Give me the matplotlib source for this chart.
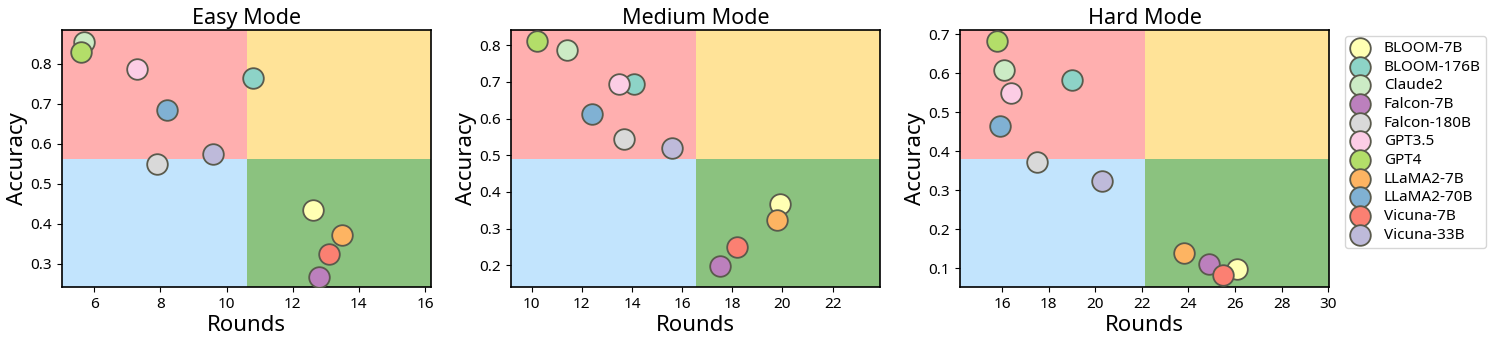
import numpy as np
import matplotlib
matplotlib.use("Agg")
import matplotlib.pyplot as plt

plt.rcParams['font.family'] = ['Noto Sans', 'DejaVu Sans']

#%% Data

models = ["BLOOM-7B", "BLOOM-176B", "Claude2", "Falcon-7B", "Falcon-180B", "GPT3.5",
          "GPT4", "LLaMA2-7B", "LLaMA2-70B", "Vicuna-7B", "Vicuna-33B"]
colors = ["#ffffb3", "#8dd3c7", "#ccebc5", "#bc80bd", "#d9d9d9", "#fccde5",
          "#b3de69", "#fdb462", "#80b1d3", "#fb8072", "#bebada"]

modes = ["Easy Mode", "Medium Mode", "Hard Mode"]

easy_rounds = [12.6, 10.8, 5.7, 12.8, 7.9, 7.3, 5.6, 13.5, 8.2, 13.1, 9.6]
easy_acc = [0.433, 0.764, 0.854, 0.266, 0.549, 0.787, 0.829, 0.372, 0.684, 0.323, 0.575]

medium_rounds = [19.9, 14.1, 11.4, 17.5, 13.7, 13.5, 10.2, 19.8, 12.4, 18.2, 15.6]
medium_acc = [0.366, 0.693, 0.787, 0.198, 0.544, 0.694, 0.812, 0.325, 0.613, 0.249, 0.521]

hard_rounds = [26.1, 19.0, 16.1, 24.9, 17.5, 16.4, 15.8, 23.8, 15.9, 25.5, 20.3]
hard_acc = [0.097, 0.583, 0.608, 0.110, 0.372, 0.550, 0.682, 0.139, 0.464, 0.081, 0.323]

xlims = [(5.03, 16.18), (9.18, 23.89), (14.2, 30.04)]
ylims = [(0.241, 0.884), (0.141, 0.841), (0.051, 0.711)]
xticks = [[6, 8, 10, 12, 14, 16], [10, 12, 14, 16, 18, 20, 22], [16, 18, 20, 22, 24, 26, 28, 30]]

# quadrant colours: top-left, top-right, bottom-left, bottom-right
quad_colors = ["#ffafaf", "#ffe398", "#c2e4fd", "#8bc27f"]

all_rounds = [easy_rounds, medium_rounds, hard_rounds]
all_acc = [easy_acc, medium_acc, hard_acc]

#%% Plot

fig, axes = plt.subplots(1, 3, figsize=(14.95, 3.41), dpi=100)
fig.subplots_adjust(left=0.0415, right=0.889, top=0.912, bottom=0.158, wspace=0.217)

for k, ax in enumerate(axes):
    ax.set_xlim(xlims[k])
    ax.set_ylim(ylims[k])
    # quadrants, split at the middle of each axis
    ax.fill_between([0, 0.5], 0.5, 1, transform=ax.transAxes, color=quad_colors[0], lw=0, zorder=0)
    ax.fill_between([0.5, 1], 0.5, 1, transform=ax.transAxes, color=quad_colors[1], lw=0, zorder=0)
    ax.fill_between([0, 0.5], 0, 0.5, transform=ax.transAxes, color=quad_colors[2], lw=0, zorder=0)
    ax.fill_between([0.5, 1], 0, 0.5, transform=ax.transAxes, color=quad_colors[3], lw=0, zorder=0)

    for i, m in enumerate(models):
        ax.scatter(all_rounds[k][i], all_acc[k][i], s=220, color=colors[i],
                   edgecolor="#5a5a4c", linewidth=1.3, label=m, zorder=3)

    ax.set_xticks(xticks[k])
    ax.set_title(modes[k], fontsize=15.5, pad=4)
    ax.set_xlabel("Rounds", fontsize=16, labelpad=2)
    ax.set_ylabel("Accuracy", fontsize=16, labelpad=2)
    ax.tick_params(labelsize=11)
    for sp in ax.spines.values():
        sp.set_linewidth(1.2)

handles, labels = axes[0].get_legend_handles_labels()
fig.legend(handles, labels, loc="upper left", bbox_to_anchor=(0.8995, 0.895),
           fontsize=11, handletextpad=0.9, labelspacing=0.24, borderpad=0.35,
           handlelength=1.3, borderaxespad=0.0, frameon=True)

plt.savefig("out.png", dpi=100)
